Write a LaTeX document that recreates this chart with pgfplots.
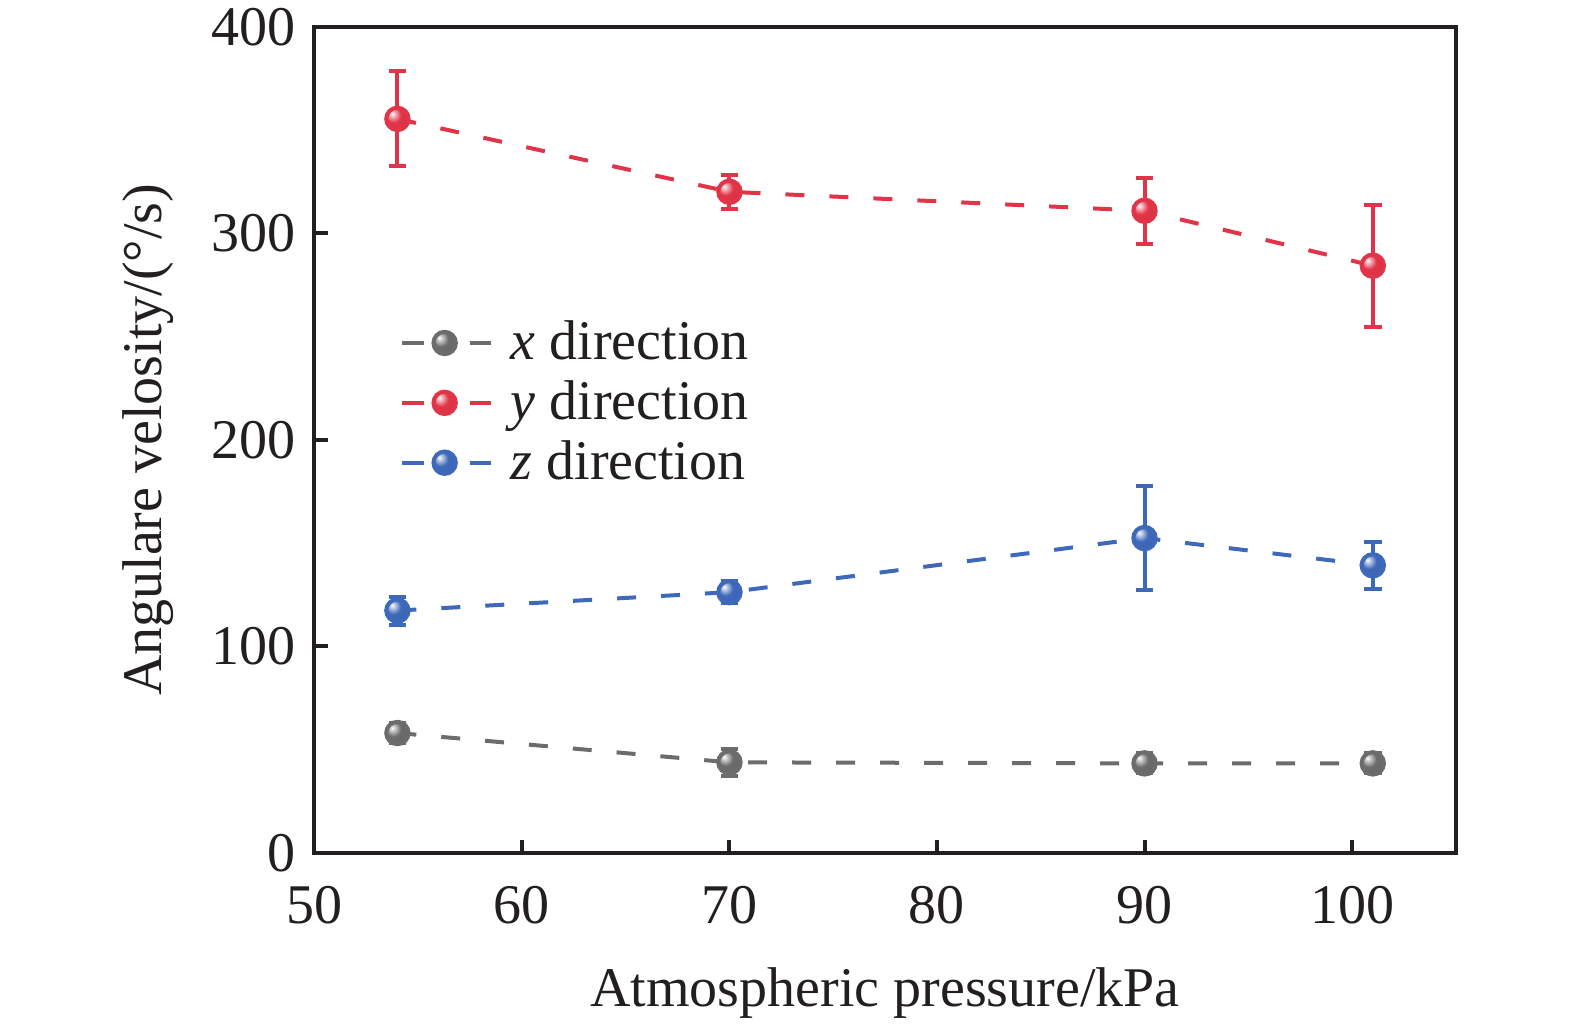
\documentclass[border=0pt]{standalone}
\usepackage{fontspec}
\setmainfont{Liberation Serif}
\usepackage{pgfplots}
\pgfplotsset{compat=1.18}
\definecolor{cx}{RGB}{108,108,108}
\definecolor{cy}{RGB}{226,52,72}
\definecolor{cz}{RGB}{62,104,185}
\definecolor{ink}{RGB}{35,31,32}
\pgfdeclareradialshading{shx}{\pgfpoint{-12bp}{12bp}}{color(0bp)=(white); color(4bp)=(white!75!cx); color(17bp)=(cx); color(55bp)=(cx!88!black); color(70bp)=(cx!88!black)}
\pgfdeclareradialshading{shy}{\pgfpoint{-12bp}{12bp}}{color(0bp)=(white); color(4bp)=(white!75!cy); color(17bp)=(cy); color(55bp)=(cy!90!black); color(70bp)=(cy!90!black)}
\pgfdeclareradialshading{shz}{\pgfpoint{-12bp}{12bp}}{color(0bp)=(white); color(4bp)=(white!75!cz); color(17bp)=(cz); color(55bp)=(cz!90!black); color(70bp)=(cz!90!black)}
\pgfdeclareplotmark{ballxx}{\shade[shading=shx] (0pt,0pt) circle[radius=\pgfplotmarksize];}
\pgfdeclareplotmark{ballyy}{\shade[shading=shy] (0pt,0pt) circle[radius=\pgfplotmarksize];}
\pgfdeclareplotmark{ballzz}{\shade[shading=shz] (0pt,0pt) circle[radius=\pgfplotmarksize];}

\pgfplotstableread{
x   y     e
54  58.0  5.0
70  43.8  6.5
90  43.3  4.8
101 43.3  4.8
}\tx
\pgfplotstableread{
x   y     e
54  355.4 23.0
70  320.1 8.2
90  310.9 16.0
101 284.3 29.5
}\ty
\pgfplotstableread{
x   y     e
54  117.3 6.8
70  126.2 5.3
90  152.4 25.0
101 139.2 11.5
}\tz

\begin{document}%
\begin{tikzpicture}[font=\fontsize{14}{16}\selectfont, every node/.style={text=ink}]
\begin{axis}[
  at={(0,0)}, anchor=south west,
  scale only axis,
  width=285.35pt, height=206.5pt,
  xmin=50, xmax=105, ymin=0, ymax=400,
  xtick={50,60,...,100}, ytick={0,100,...,400},
  tick align=inside, xtick pos=bottom, ytick pos=left,
  major tick length=3.3pt,
  axis line style={line width=1pt, ink},
  every tick/.style={line width=1pt, ink},
  /pgf/number format/assume math mode=true,
  tick label style={font=\fontsize{14}{16}\selectfont, text=ink},
  xticklabel style={anchor=base, yshift=-17.75pt},
  yticklabel style={xshift=-1.3pt},
  xlabel={Atmospheric pressure/kPa},
  ylabel={Angulare velosity/(°/s)},
  label style={font=\fontsize{14}{16}\selectfont, text=ink},
  every axis x label/.style={at={(axis description cs:0.5,-0.1855)}, anchor=base},
  every axis y label/.style={at={(axis description cs:-0.1454,0.5)}, rotate=90, anchor=center},
  legend style={draw=none, fill=none, at={(axis description cs:0.074,0.655)}, anchor=north west,
    font=\fontsize{14}{16}\selectfont, row sep=-0.25pt, inner sep=0pt,
    /tikz/every odd column/.append style={column sep=2.5pt}},
  legend cell align=left,
  legend image code/.code={
    \draw[solid] (0pt,0pt) -- (5.5pt,0pt);
    \draw[solid] (17pt,0pt) -- (22.25pt,0pt);
    \draw[solid] plot coordinates {(10.75pt,0pt)};
  },
  clip=false,
]
\addplot[color=cx, line width=1pt, dash pattern=on 4.75pt off 6.25pt,
  mark=ballxx, mark size=2.8pt, mark options={solid},
  error bars/.cd, y dir=both, y explicit,
  error bar style={solid, line width=1pt, color=cx},
  error mark options={rotate=90, mark size=2.2pt, line width=1pt, solid, color=cx}]
  table[x=x, y=y, y error=e] {\tx};
\addlegendentry{\textit{x} direction}
\addplot[color=cy, line width=1pt, dash pattern=on 4.75pt off 6.25pt,
  mark=ballyy, mark size=2.8pt, mark options={solid},
  error bars/.cd, y dir=both, y explicit,
  error bar style={solid, line width=1pt, color=cy},
  error mark options={rotate=90, mark size=2.2pt, line width=1pt, solid, color=cy}]
  table[x=x, y=y, y error=e] {\ty};
\addlegendentry{\textit{y} direction}
\addplot[color=cz, line width=1pt, dash pattern=on 4.75pt off 6.25pt,
  mark=ballzz, mark size=2.8pt, mark options={solid},
  error bars/.cd, y dir=both, y explicit,
  error bar style={solid, line width=1pt, color=cz},
  error mark options={rotate=90, mark size=2.2pt, line width=1pt, solid, color=cz}]
  table[x=x, y=y, y error=e] {\tz};
\addlegendentry{\textit{z} direction}
\end{axis}
\pgfresetboundingbox
\path[use as bounding box] (-78.6pt,-42.6pt) rectangle (315.15pt,213.2pt);
\end{tikzpicture}%
\end{document}
